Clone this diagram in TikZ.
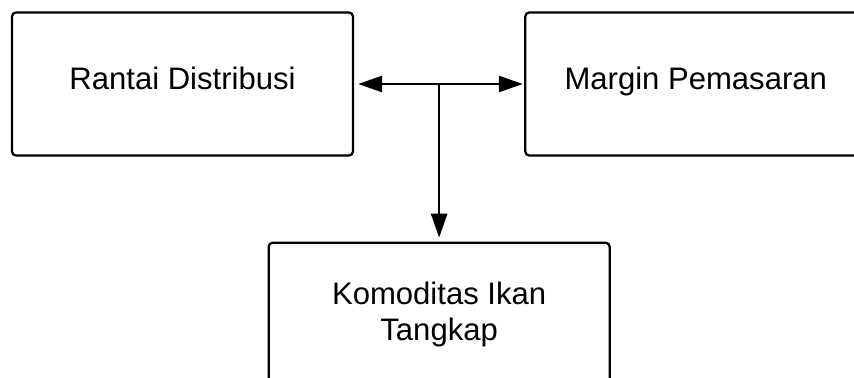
\documentclass[tikz,border=0pt]{standalone}
\usepackage{fontspec}
\setmainfont{Liberation Sans}
\usepackage{tikz}
\usetikzlibrary{
	positioning,
	calc,
	arrows.meta
}

\begin{document}
\begin{tikzpicture}[
	x=0.75pt, y=-0.75pt,
	framed/.style={draw, line width=1.7pt, rounded corners=3pt, align=center,
		font=\fontsize{23.3}{27}\selectfont,
		minimum width=255.75pt, minimum height=107.25pt},
	oneline/.style={framed, text height=16.5pt, text depth=7.5pt},
	link/.style={line width=2pt, -{Triangle[length=18pt, width=12pt]}},
	biglink/.style={link, {Triangle[length=18pt, width=12pt]}-{Triangle[length=18pt, width=12pt]}}
]
	\useasboundingbox (0,0) rectangle (854,378);

	\node[oneline] (rd) at (182.5,84) {Rantai Distribusi};
	\node[oneline, right=127.5pt of rd] (mp) {Margin Pemasaran};

	\coordinate (jn) at ($(rd.east)!0.5!(mp.west)$);
	\coordinate (jnb) at (rd.south -| jn);
	\node[framed, below=63.75pt of jnb] (kit) {Komoditas Ikan\\Tangkap};

	\draw[biglink, shorten <=3pt, shorten >=1pt] (rd) -- (mp);
	\draw[link, shorten >=3pt] (jn) -- (kit);

\end{tikzpicture}
\end{document}
